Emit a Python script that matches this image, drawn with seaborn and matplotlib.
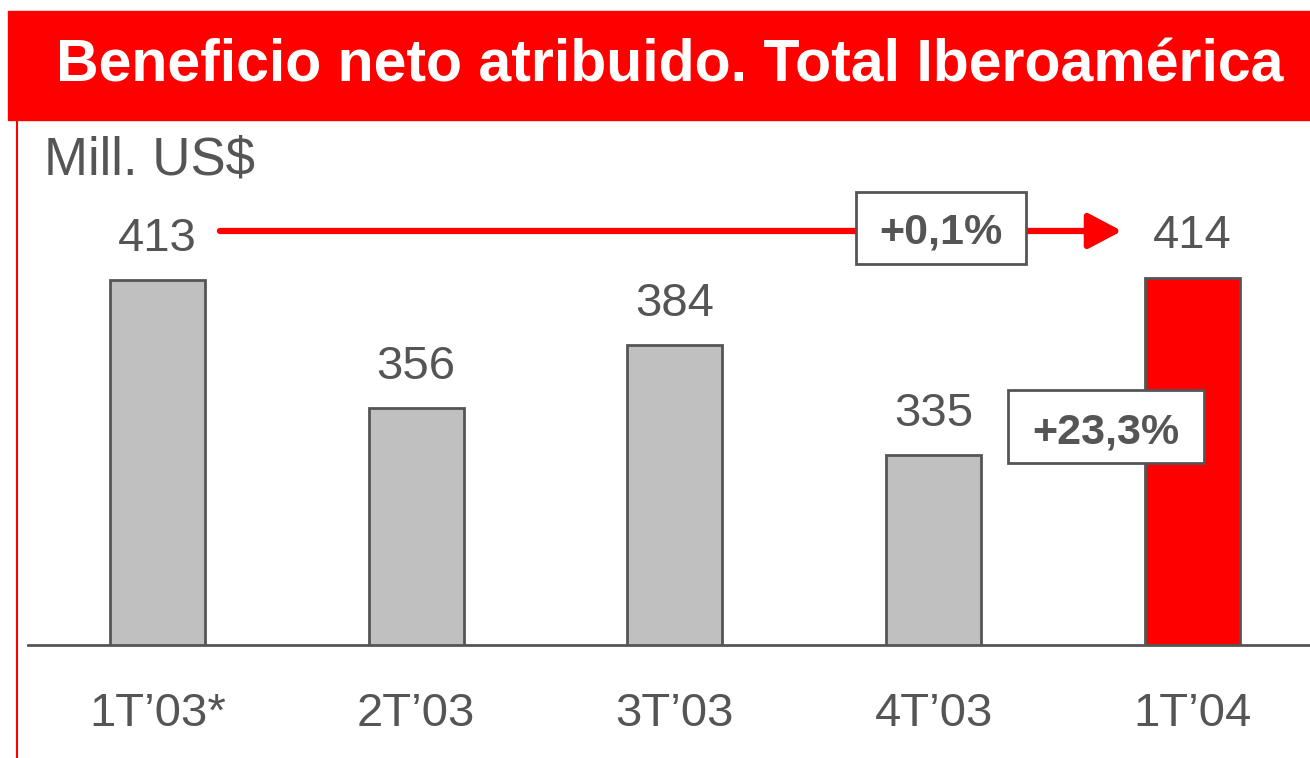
import matplotlib
matplotlib.use("Agg")
import matplotlib.pyplot as plt
from matplotlib.patches import Rectangle
from matplotlib.lines import Line2D
import seaborn as sns

quarters = ["1T’03*", "2T’03", "3T’03", "4T’03", "1T’04"]
profit = [413, 356, 384, 335, 414]
bar_colors = ["#C0C0C0", "#C0C0C0", "#C0C0C0", "#C0C0C0", "#FF0000"]

TXT = "#555555"
RED = "#FF0000"

sns.set_theme(style="white")
plt.rcParams["font.family"] = ["Liberation Sans", "DejaVu Sans"]

fig = plt.figure(figsize=(13.1, 7.58), dpi=100)
W, H = 1310, 758
ax = fig.add_axes([28 / W, (H - 645) / H, (1310 - 28) / W, (645 - 120) / H])

sns.barplot(x=quarters, y=profit, hue=quarters, palette=bar_colors, legend=False,
            width=0.367, edgecolor=TXT, linewidth=2, ax=ax, saturation=1)

ax.set_xlim(-0.5, 4.454)
ax.set_ylim(250.5, 484.2)
for c in ax.containers:
    ax.bar_label(c, padding=14, fontsize=34, color=TXT)

ax.set_yticks([])
ax.set_xlabel("")
ax.set_ylabel("")
ax.tick_params(axis="x", length=0, pad=34, labelsize=34, labelcolor=TXT)
for s in ["top", "right", "left"]:
    ax.spines[s].set_visible(False)
ax.spines["bottom"].set_color(TXT)
ax.spines["bottom"].set_linewidth(2)

# title banner
fig.patches.append(Rectangle((8 / W, (H - 120) / H), (1310 - 8) / W, 109 / H,
                             transform=fig.transFigure, color=RED, zorder=0))
fig.text(670 / W, (H - 66) / H, "Beneficio neto atribuido. Total Iberoamérica",
         color="white", fontsize=42.5, fontweight="bold", ha="center", va="center")
fig.lines.append(Line2D([17 / W, 17 / W], [0, (H - 120) / H], transform=fig.transFigure,
                        color=RED, linewidth=1.5))
fig.text(44 / W, (H - 160) / H, "Mill. US$", color=TXT, fontsize=38, ha="left", va="center")

# growth arrow and boxes
ax.annotate("", xy=(3.727, 434.8), xytext=(0.2415, 434.8),
            arrowprops=dict(arrowstyle="-|>,head_length=1.7,head_width=0.9",
                            color=RED, lw=4.5, shrinkA=0, shrinkB=0))
ax.add_patch(Rectangle((2.6995, 420.1), 0.657, 32.1, facecolor="white",
                       edgecolor=TXT, linewidth=2, zorder=5))
ax.text(3.028, 434.3, "+0,1%", fontsize=31, fontweight="bold", color=TXT,
        ha="center", va="center", zorder=6)
ax.add_patch(Rectangle((3.287, 331.5), 0.757, 32.5, facecolor="white",
                       edgecolor=TXT, linewidth=2, zorder=5))
ax.text(3.666, 345.3, "+23,3%", fontsize=31, fontweight="bold", color=TXT,
        ha="center", va="center", zorder=6)

fig.savefig("out.png", dpi=100)
